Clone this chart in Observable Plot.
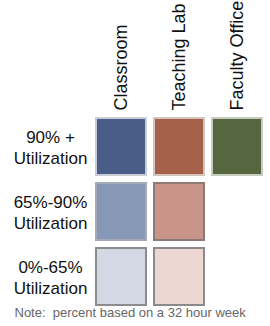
<!DOCTYPE html>
<html>
<head>
<meta charset="utf-8">
<script src="https://cdn.jsdelivr.net/npm/d3@7"></script>
<script src="https://cdn.jsdelivr.net/npm/@observablehq/plot@0.6"></script>
<style>
  html, body { margin: 0; padding: 0; background: #fff; }
  svg { display: block; }
</style>
</head>
<body>
<div id="chart"></div>
<script>
// Data
const columns = ["Classroom", "Teaching Lab", "Faculty Office"];
const rows = ["90% +\nUtilization", "65%-90%\nUtilization", "0%-65%\nUtilization"];
// which room types have a cell in each utilization tier
const present = [
  ["Classroom", "Teaching Lab", "Faculty Office"],
  ["Classroom", "Teaching Lab"],
  ["Classroom", "Teaching Lab"]
];
const note = "Note:  percent based on a 32 hour week";

// Palette (style)
const fillPalette = {
  "Classroom": ["#4a5d89", "#8797b6", "#d2d8e4"],
  "Teaching Lab": ["#a5604a", "#c9958a", "#ecd7d2"],
  "Faculty Office": ["#56663f", "#56663f", "#56663f"]
};
const strokePalette = {
  "Classroom": ["#c8ccd4", "#a4aab8", "#8c8c8e"],
  "Teaching Lab": ["#d4c4be", "#8e7a75", "#8c8a8a"],
  "Faculty Office": ["#c8ccc0", "#c8ccc0", "#c8ccc0"]
};

const cells = [];
rows.forEach((r, i) => present[i].forEach(c => cells.push({col: c, row: r, tier: i})));

const chart = Plot.plot({
  width: 270,
  height: 326,
  marginLeft: 95,
  marginRight: 6,
  marginTop: 116,
  marginBottom: 20,
  style: {fontFamily: "'Liberation Sans', Arial, sans-serif", background: "#fff"},
  x: {domain: columns, paddingInner: 0.1, paddingOuter: 0},
  y: {domain: rows, paddingInner: 0.1, paddingOuter: 0, axis: null},
  marks: [
    Plot.cell(cells, {
      x: "col", y: "row", inset: 1,
      fill: d => fillPalette[d.col][d.tier],
      stroke: d => strokePalette[d.col][d.tier],
      strokeWidth: 2
    }),
    Plot.axisX({anchor: "top", tickRotate: -90, tickSize: 0, tickPadding: 6, fontSize: 18,
      label: null, fill: "#111"}),
    Plot.text(rows, {
      y: d => d, text: d => d, frameAnchor: "left", dx: -45,
      textAnchor: "middle", fontSize: 17, lineHeight: 1.2, fill: "#111"
    }),
    Plot.text([note], {
      text: d => d, frameAnchor: "bottom-left", dx: -81, dy: 10,
      textAnchor: "start", fontSize: 13, fill: "#666"
    })
  ]
});
document.getElementById("chart").appendChild(chart);
</script>
</body>
</html>
